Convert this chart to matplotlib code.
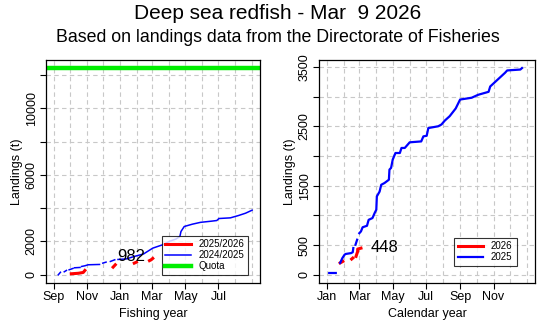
import numpy as np
import matplotlib
matplotlib.use("Agg")
import matplotlib.pyplot as plt
from datetime import date

plt.rcParams['font.family'] = ['Liberation Sans', 'DejaVu Sans']

# fishing year 2024/2025 (days since Sep 1), nan = no line
fy_prev_day = [8, 12, np.nan, 19, 23, np.nan, 28, 35, np.nan, 38, 48, np.nan,
               51, 57, 63, 84, np.nan, 90, 96, np.nan, 104, 112, np.nan,
               118, 133, 148, 165, 182, 200, 212, 225, 232, 234, 240, 255,
               270, 290, 300, 304, 325, 340, 353, 365]
fy_prev_val = [0, 150, np.nan, 180, 260, np.nan, 300, 380, np.nan, 420, 440, np.nan,
               500, 540, 600, 620, np.nan, 700, 760, np.nan, 800, 900, np.nan,
               920, 950, 1100, 1250, 1600, 1800, 2000, 2150, 2300, 2600, 2900, 3040,
               3150, 3220, 3260, 3380, 3420, 3560, 3700, 3880]

# fishing year 2025/2026
fy_cur_day = [32, 45, 54, 57, np.nan, 109, 113, np.nan, 148, 152, np.nan, 176, 179, 182]
fy_cur_val = [60, 90, 140, 260, np.nan, 460, 600, np.nan, 700, 760, np.nan, 850, 900, 982]

quota = 12430

# calendar year 2025 (days since Jan 1)
cy_prev_day = [4, 16, np.nan, 24, 28, 32, 34, 44, 47, 48, np.nan, 52, 55, np.nan,
               59, 62, 65, 73, 76, 83, 87, 90, 91, 96, 99, 105, 113, 114, 117, 120,
               125, 133, 136, 142, 151, 172, 176, 182, 185, 203, 209, 215, 224, 235,
               243, 264, 276, 295, 298, 325, 329, 353, 356]
cy_prev_val = [30, 30, np.nan, 200, 280, 337, 350, 365, 380, 450, np.nan, 505, 590, np.nan,
               700, 730, 800, 825, 925, 955, 1040, 1095, 1320, 1400, 1515, 1545, 1600, 1770, 1800, 1940,
               2050, 2050, 2135, 2135, 2230, 2245, 2330, 2340, 2470, 2500, 2530, 2595, 2670, 2800,
               2950, 2980, 3030, 3080, 3170, 3400, 3440, 3455, 3480]

# calendar year 2026
cy_cur_day = [24, 29, np.nan, 45, 47, np.nan, 53, 56, 56, 62]
cy_cur_val = [200, 225, np.nan, 265, 281, np.nan, 310, 393, 433, 448]

fy_ticks = ["Sep", "Nov", "Jan", "Mar", "May", "Jul"]
cy_ticks = ["Jan", "Mar", "May", "Jul", "Sep", "Nov"]


def month_starts(y, m, n):
    start = date(y, m, 1)
    out = []
    for i in range(n + 1):
        mm = (m - 1 + i) % 12 + 1
        yy = y + (m - 1 + i) // 12
        out.append((date(yy, mm, 1) - start).days)
    return out


def style_axis(ax, months, ylim_max, yticks, ylabels, xlabel, xticklabels):
    ax.set_xlim(-0.04 * 365, 365 * 1.04)
    ax.set_ylim(-0.04 * ylim_max, ylim_max * 1.04)
    for d in months:
        ax.axvline(d, color='#c8c8c8', lw=0.8, ls=(0, (4, 3)), zorder=0)
    for v in yticks:
        ax.axhline(v, color='#c8c8c8', lw=0.8, ls=(0, (4, 3)), zorder=0)
    ax.set_xticks(months[0:12:2])
    ax.set_xticklabels(xticklabels, fontsize=9)
    ax.set_yticks(yticks)
    ax.set_yticklabels(ylabels, fontsize=9, rotation=90, va='center')
    ax.tick_params(direction='out', length=4, width=0.8, pad=2)
    ax.set_xlabel(xlabel, fontsize=9, labelpad=3)
    ax.set_ylabel("Landings (t)", fontsize=9, labelpad=2)
    for s in ax.spines.values():
        s.set_linewidth(0.9)


fig = plt.figure(figsize=(5.55, 3.33), dpi=100)
fig.text(0.5, 0.96, "Deep sea redfish - Mar  9 2026", ha='center', va='center', fontsize=15)
fig.text(0.5, 0.888, "Based on landings data from the Directorate of Fisheries",
         ha='center', va='center', fontsize=12.8)

ax1 = fig.add_axes([0.0829, 0.150, 0.3856, 0.671])
ax2 = fig.add_axes([0.5748, 0.150, 0.389, 0.671])

# left panel: fishing year
months_fy = month_starts(2024, 9, 12)
ax1.plot(fy_cur_day, fy_cur_val, color='red', lw=2.2, label='2025/2026')
ax1.plot(fy_prev_day, fy_prev_val, color='blue', lw=1.1, label='2024/2025')
ax1.axhline(quota, color='#00ee00', lw=3.2, label='Quota')
ax1.text(143, 1080, "982", fontsize=12, ha='center', va='center')
style_axis(ax1, months_fy, quota, list(range(0, 12001, 2000)),
           ["0", "2000", "", "6000", "", "10000", ""], "Fishing year", fy_ticks)
leg1 = ax1.legend(loc='lower right', bbox_to_anchor=(0.945, 0.035), fontsize=7,
                  frameon=True, fancybox=False, edgecolor='black', handlelength=2.6,
                  borderpad=0.4, labelspacing=0.1, handletextpad=0.8, borderaxespad=0)
leg1.get_frame().set_linewidth(0.8)
leg1.set_zorder(5)

# right panel: calendar year
months_cy = month_starts(2025, 1, 12)
ax2.plot(cy_cur_day, cy_cur_val, color='red', lw=2.2, label='2026')
ax2.plot(cy_prev_day, cy_prev_val, color='blue', lw=1.6, label='2025')
ax2.text(105, 467, "448", fontsize=12, ha='center', va='center')
style_axis(ax2, months_cy, 3483, list(range(0, 3501, 500)),
           ["0", "500", "", "1500", "", "2500", "", "3500"], "Calendar year", cy_ticks)
leg2 = ax2.legend(loc='lower right', bbox_to_anchor=(0.915, 0.075), fontsize=7,
                  frameon=True, fancybox=False, edgecolor='black', handlelength=2.6,
                  borderpad=0.4, labelspacing=0.1, handletextpad=0.8, borderaxespad=0)
leg2.get_frame().set_linewidth(0.8)

fig.savefig("out.png", dpi=100)
